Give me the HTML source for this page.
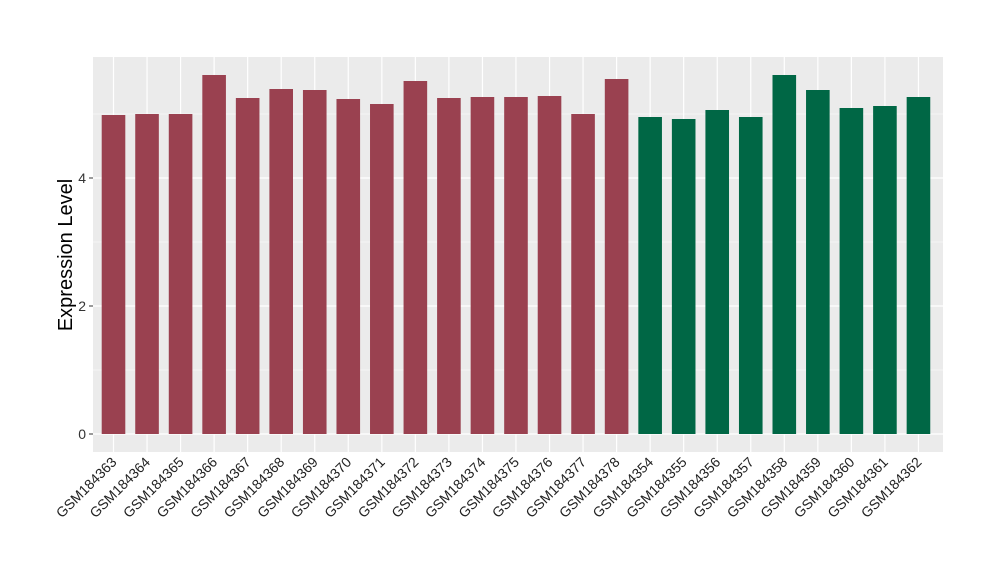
<!DOCTYPE html>
<html><head><meta charset="utf-8"><style>body{margin:0;background:#fff}svg{display:block}</style></head><body>
<svg width="1000" height="580" xmlns="http://www.w3.org/2000/svg" font-family="Liberation Sans, Arial, sans-serif">
<rect x="93" y="57" width="850" height="395" fill="#ebebeb"/>
<g stroke="#fff" stroke-width="0.6">
<line x1="93" x2="943" y1="370" y2="370"/><line x1="93" x2="943" y1="242" y2="242"/><line x1="93" x2="943" y1="114" y2="114"/>
</g>
<g stroke="#fff" stroke-width="1.2">
<line x1="93" x2="943" y1="434" y2="434"/><line x1="93" x2="943" y1="306" y2="306"/><line x1="93" x2="943" y1="178" y2="178"/>
<line x1="113.5" x2="113.5" y1="57" y2="452"/><line x1="147.04" x2="147.04" y1="57" y2="452"/><line x1="180.58" x2="180.58" y1="57" y2="452"/><line x1="214.12" x2="214.12" y1="57" y2="452"/><line x1="247.66" x2="247.66" y1="57" y2="452"/><line x1="281.2" x2="281.2" y1="57" y2="452"/><line x1="314.74" x2="314.74" y1="57" y2="452"/><line x1="348.28" x2="348.28" y1="57" y2="452"/><line x1="381.82" x2="381.82" y1="57" y2="452"/><line x1="415.36" x2="415.36" y1="57" y2="452"/><line x1="448.9" x2="448.9" y1="57" y2="452"/><line x1="482.44" x2="482.44" y1="57" y2="452"/><line x1="515.98" x2="515.98" y1="57" y2="452"/><line x1="549.52" x2="549.52" y1="57" y2="452"/><line x1="583.06" x2="583.06" y1="57" y2="452"/><line x1="616.6" x2="616.6" y1="57" y2="452"/><line x1="650.14" x2="650.14" y1="57" y2="452"/><line x1="683.68" x2="683.68" y1="57" y2="452"/><line x1="717.22" x2="717.22" y1="57" y2="452"/><line x1="750.76" x2="750.76" y1="57" y2="452"/><line x1="784.3" x2="784.3" y1="57" y2="452"/><line x1="817.84" x2="817.84" y1="57" y2="452"/><line x1="851.38" x2="851.38" y1="57" y2="452"/><line x1="884.92" x2="884.92" y1="57" y2="452"/><line x1="918.46" x2="918.46" y1="57" y2="452"/>
</g>
<g fill="#9a4150">
<rect x="101.7" y="115" width="23.6" height="319"/>
<rect x="135.24" y="114" width="23.6" height="320"/>
<rect x="168.78" y="114" width="23.6" height="320"/>
<rect x="202.32" y="75" width="23.6" height="359"/>
<rect x="235.86" y="98" width="23.6" height="336"/>
<rect x="269.4" y="89" width="23.6" height="345"/>
<rect x="302.94" y="90" width="23.6" height="344"/>
<rect x="336.48" y="99" width="23.6" height="335"/>
<rect x="370.02" y="104" width="23.6" height="330"/>
<rect x="403.56" y="81" width="23.6" height="353"/>
<rect x="437.1" y="98" width="23.6" height="336"/>
<rect x="470.64" y="97" width="23.6" height="337"/>
<rect x="504.18" y="97" width="23.6" height="337"/>
<rect x="537.72" y="96" width="23.6" height="338"/>
<rect x="571.26" y="114" width="23.6" height="320"/>
<rect x="604.8" y="79" width="23.6" height="355"/>
</g>
<g fill="#006745">
<rect x="638.34" y="117" width="23.6" height="317"/>
<rect x="671.88" y="119" width="23.6" height="315"/>
<rect x="705.42" y="110" width="23.6" height="324"/>
<rect x="738.96" y="117" width="23.6" height="317"/>
<rect x="772.5" y="75" width="23.6" height="359"/>
<rect x="806.04" y="90" width="23.6" height="344"/>
<rect x="839.58" y="108" width="23.6" height="326"/>
<rect x="873.12" y="106" width="23.6" height="328"/>
<rect x="906.66" y="97" width="23.6" height="337"/>
</g>
<g fill="#333" font-size="14" text-anchor="end">
<text x="86" y="439">0</text><text x="86" y="311">2</text><text x="86" y="183">4</text>
</g>
<g stroke="#333" stroke-width="1"><line x1="89" x2="93" y1="434" y2="434"/><line x1="89" x2="93" y1="306" y2="306"/><line x1="89" x2="93" y1="178" y2="178"/></g>
<g fill="#222" font-size="14" text-anchor="end">
<text transform="translate(117.5,463) rotate(-45)">GSM184363</text>
<text transform="translate(151.04,463) rotate(-45)">GSM184364</text>
<text transform="translate(184.58,463) rotate(-45)">GSM184365</text>
<text transform="translate(218.12,463) rotate(-45)">GSM184366</text>
<text transform="translate(251.66,463) rotate(-45)">GSM184367</text>
<text transform="translate(285.2,463) rotate(-45)">GSM184368</text>
<text transform="translate(318.74,463) rotate(-45)">GSM184369</text>
<text transform="translate(352.28,463) rotate(-45)">GSM184370</text>
<text transform="translate(385.82,463) rotate(-45)">GSM184371</text>
<text transform="translate(419.36,463) rotate(-45)">GSM184372</text>
<text transform="translate(452.9,463) rotate(-45)">GSM184373</text>
<text transform="translate(486.44,463) rotate(-45)">GSM184374</text>
<text transform="translate(519.98,463) rotate(-45)">GSM184375</text>
<text transform="translate(553.52,463) rotate(-45)">GSM184376</text>
<text transform="translate(587.06,463) rotate(-45)">GSM184377</text>
<text transform="translate(620.6,463) rotate(-45)">GSM184378</text>
<text transform="translate(654.14,463) rotate(-45)">GSM184354</text>
<text transform="translate(687.68,463) rotate(-45)">GSM184355</text>
<text transform="translate(721.22,463) rotate(-45)">GSM184356</text>
<text transform="translate(754.76,463) rotate(-45)">GSM184357</text>
<text transform="translate(788.3,463) rotate(-45)">GSM184358</text>
<text transform="translate(821.84,463) rotate(-45)">GSM184359</text>
<text transform="translate(855.38,463) rotate(-45)">GSM184360</text>
<text transform="translate(888.92,463) rotate(-45)">GSM184361</text>
<text transform="translate(922.46,463) rotate(-45)">GSM184362</text>
</g>
<text transform="translate(72,255) rotate(-90)" text-anchor="middle" font-size="20" fill="#000">Expression Level</text>
</svg>
</body></html>
